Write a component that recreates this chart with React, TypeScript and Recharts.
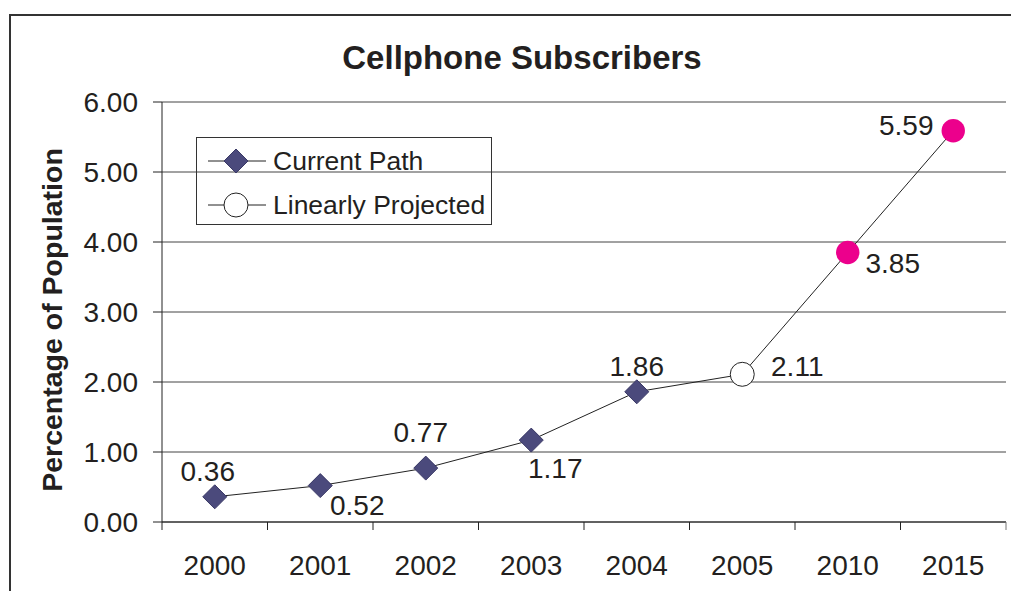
import React from "react";
import {
  LineChart,
  Line,
  XAxis,
  YAxis,
  CartesianGrid,
  LabelList,
} from "recharts";

const years = ["2000", "2001", "2002", "2003", "2004", "2005", "2010", "2015"];
const subscribers = [0.36, 0.52, 0.77, 1.17, 1.86, 2.11, 3.85, 5.59];
const yTicks = [0, 1, 2, 3, 4, 5, 6];

// marker style per point and label offsets (styling only)
const markers = ["diamond", "diamond", "diamond", "diamond", "diamond", "open", "pink", "pink"];
const labelOffsets = [
  [-7, -25],
  [37, 20],
  [-5, -36],
  [24, 28],
  [0, -25],
  [55, -8],
  [45, 11],
  [-47, -5],
];

const data = years.map((year, i) => ({ year, value: subscribers[i] }));

const FONT = "'Liberation Sans', Arial, sans-serif";
const TEXT = "#231f20";
const NAVY = "#4b4a7c";
const PINK = "#ec008c";
const HALF_BAND = 52.75;

function Marker({ cx, cy, kind }: { cx: number; cy: number; kind: string }) {
  if (kind === "diamond") {
    const s = 12;
    return (
      <polygon
        points={`${cx},${cy - s} ${cx + s},${cy} ${cx},${cy + s} ${cx - s},${cy}`}
        fill={NAVY}
        stroke="#3a3966"
        strokeWidth={1}
      />
    );
  }
  if (kind === "open") {
    return <circle cx={cx} cy={cy} r={12} fill="#fff" stroke="#222" strokeWidth={1} />;
  }
  return <circle cx={cx} cy={cy} r={11.7} fill={PINK} />;
}

const renderDot = (props: any) => {
  const { cx, cy, index } = props;
  return <Marker key={`dot-${index}`} cx={cx} cy={cy} kind={markers[index]} />;
};

const renderLabel = (props: any) => {
  const { x, y, value, index } = props;
  const [dx, dy] = labelOffsets[index];
  return (
    <text
      x={x + dx}
      y={y + dy}
      textAnchor="middle"
      dominantBaseline="central"
      fontFamily={FONT}
      fontSize={28}
      fill={TEXT}
    >
      {Number(value).toFixed(2)}
    </text>
  );
};

const XTick = (props: any) => {
  const { x, y, payload, index } = props;
  return (
    <g>
      <line x1={x - HALF_BAND} y1={y} x2={x - HALF_BAND} y2={y + 8} stroke="#222" />
      {index === years.length - 1 && (
        <line x1={x + HALF_BAND} y1={y} x2={x + HALF_BAND} y2={y + 8} stroke="#777" />
      )}
      <text x={x} y={y + 53} textAnchor="middle" fontFamily={FONT} fontSize={28} fill={TEXT}>
        {payload.value}
      </text>
    </g>
  );
};

function LegendRow({ kind, label, top }: { kind: string; label: string; top: number }) {
  return (
    <div style={{ position: "absolute", left: 0, top, height: 30, display: "flex", alignItems: "center" }}>
      <svg width={76} height={30} style={{ display: "block" }}>
        <line x1={11} y1={15} x2={69} y2={15} stroke="#222" strokeWidth={1} />
        <Marker cx={39} cy={15} kind={kind} />
      </svg>
      <span style={{ fontFamily: FONT, fontSize: 26.5, color: TEXT, whiteSpace: "nowrap" }}>{label}</span>
    </div>
  );
}

export default function App() {
  return (
    <div style={{ position: "relative", width: 1019, height: 599, margin: -8, background: "#fff", overflow: "hidden" }}>
      <svg width={1019} height={599} style={{ position: "absolute", left: 0, top: 0 }}>
        <rect x={10} y={15} width={1100} height={700} fill="none" stroke="#333" strokeWidth={2} />
        <text x={522} y={69} textAnchor="middle" fontFamily={FONT} fontWeight="bold" fontSize={33} fill={TEXT}>
          Cellphone Subscribers
        </text>
        <text
          x={0}
          y={0}
          transform="translate(62, 320) rotate(-90)"
          textAnchor="middle"
          fontFamily={FONT}
          fontWeight="bold"
          fontSize={28.5}
          fill={TEXT}
        >
          Percentage of Population
        </text>
      </svg>
      <div style={{ position: "absolute", left: 0, top: 0 }}>
        <LineChart
          width={1019}
          height={599}
          data={data}
          margin={{ top: 102, right: 13, bottom: 37, left: 102 }}
        >
          <CartesianGrid horizontal vertical={false} stroke="#444" strokeWidth={1} />
          <XAxis
            dataKey="year"
            height={40}
            padding={{ left: HALF_BAND, right: HALF_BAND }}
            axisLine={{ stroke: "#222" }}
            tickLine={false}
            tickSize={0}
            tickMargin={0}
            tick={<XTick />}
            interval={0}
          />
          <YAxis
            width={60}
            domain={[0, 6]}
            ticks={yTicks}
            tickFormatter={(v: number) => v.toFixed(2)}
            axisLine={{ stroke: "#222" }}
            tickLine={{ stroke: "#222" }}
            tickSize={9}
            tickMargin={15}
            tick={{ fontFamily: FONT, fontSize: 28, fill: TEXT }}
          />
          <YAxis
            yAxisId="right"
            orientation="right"
            width={0}
            domain={[0, 6]}
            tick={false}
            tickLine={false}
            axisLine={{ stroke: "#777" }}
          />
          <Line
            type="linear"
            dataKey="value"
            stroke="#222"
            strokeWidth={1}
            dot={renderDot}
            activeDot={false}
            isAnimationActive={false}
          >
            <LabelList dataKey="value" content={renderLabel} />
          </Line>
        </LineChart>
      </div>
      <div
        style={{
          position: "absolute",
          left: 196,
          top: 137,
          width: 296,
          height: 88,
          border: "1px solid #333",
          boxSizing: "border-box",
        }}
      >
        <LegendRow kind="diamond" label="Current Path" top={8} />
        <LegendRow kind="open" label="Linearly Projected" top={52} />
      </div>
    </div>
  );
}
